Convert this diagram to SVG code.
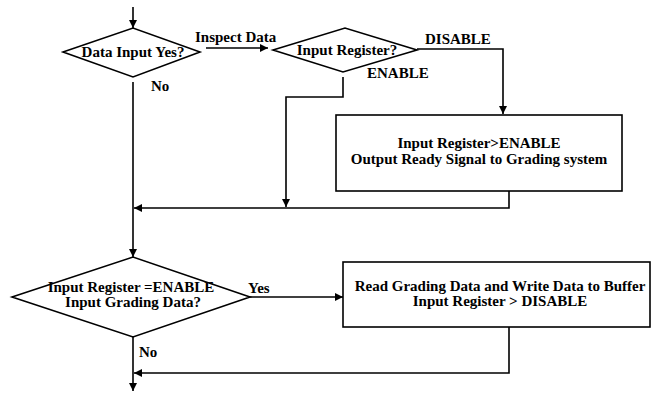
<svg xmlns="http://www.w3.org/2000/svg" width="652" height="394" viewBox="0 0 652 394">
<defs>
<marker id="ah" viewBox="0 0 10 10" refX="10" refY="5" markerWidth="8" markerHeight="8" markerUnits="userSpaceOnUse" orient="auto">
<path d="M0,0 L10,5 L0,10 z" fill="#000"/>
</marker>
<style>
.s{fill:#fff;stroke:#000;stroke-width:1.6}
.c{fill:none;stroke:#000;stroke-width:1.6}
.a{marker-end:url(#ah)}
text{font-family:"Liberation Serif","Times New Roman",serif;font-weight:bold;font-size:15px;fill:#000}
.m{text-anchor:middle}
</style>
</defs>
<rect width="652" height="394" fill="#fff"/>
<g id="connectors">
<path class="c a" d="M133,7 V28"/>
<path class="c a" d="M206,48 H268"/>
<path class="c a" d="M417,49 H503 V114"/>
<path class="c a" d="M343,77 V97 H286 V207"/>
<path class="c a" d="M509,191 V208 H134"/>
<path class="c a" d="M133,82 V257"/>
<path class="c a" d="M250,297 H343"/>
<path class="c a" d="M509,327 V373 H134"/>
<path class="c a" d="M133,337 V391"/>
</g>
<g id="d1">
<polygon class="s" points="63,52 133,28 200,52 133,77"/>
<text class="m" x="133" y="57">Data Input Yes?</text>
</g>
<g id="d2">
<polygon class="s" points="273,50 345,28 417,50 343,72"/>
<text class="m" x="347" y="55">Input Register?</text>
</g>
<g id="b1">
<rect class="s" x="336" y="115" width="286" height="76"/>
<text class="m" x="479" y="148">Input Register&gt;ENABLE</text>
<text class="m" x="479" y="164">Output Ready Signal to Grading system</text>
</g>
<g id="d3">
<polygon class="s" points="12,297 133,257 250,297 133,337"/>
<text class="m" x="131" y="292">Input Register =ENABLE</text>
<text class="m" x="133" y="307">Input Grading Data?</text>
</g>
<g id="b2">
<rect class="s" x="343" y="262" width="307" height="65"/>
<text class="m" x="500" y="291">Read Grading Data and Write Data to Buffer</text>
<text class="m" x="500" y="306">Input Register &gt; DISABLE</text>
</g>
<g id="labels">
<text x="195" y="42">Inspect Data</text>
<text x="425" y="44">DISABLE</text>
<text x="367" y="78">ENABLE</text>
<text x="151" y="91">No</text>
<text x="248" y="293">Yes</text>
<text x="139" y="357">No</text>
</g>
</svg>
